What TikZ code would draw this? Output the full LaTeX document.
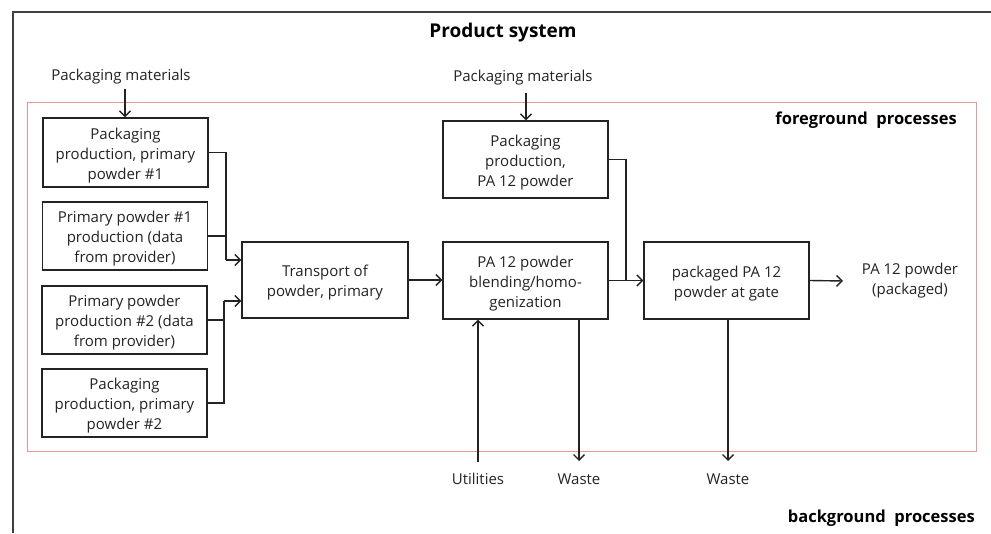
\documentclass[tikz,border=0pt]{standalone}
\usepackage{fontspec}
\setmainfont{Open Sans}
\usetikzlibrary{arrows.meta}
\definecolor{fgred}{RGB}{232,150,150}
\definecolor{ink}{RGB}{35,35,35}
\begin{document}
\begin{tikzpicture}[x=1pt,y=-1pt,
  txt/.style={font=\fontsize{15}{20}\selectfont, text=ink, align=center, inner sep=0pt, yshift=-2.5pt},
  box/.style={draw=ink, line width=1.1pt, minimum width=165pt, minimum height=69pt, inner sep=0pt},
  boxtxt/.style={txt, yshift=-0.5pt},
  ttl/.style={font=\fontsize{16.5}{18}\selectfont\bfseries, text=black, inner sep=0pt, yshift=-2pt},
  ln/.style={draw=ink, line width=1.4pt},
  arr/.style={ln, -{Straight Barb[length=5.5pt,width=11pt]}}]
\useasboundingbox (0,0) rectangle (991,534);
% frames
\draw[black!75, line width=1.2pt] (991,12) -- (13,12) -- (13,533);
\draw[fgred, line width=1pt] (27,103) rectangle (976,452);
% titles
\node[ttl, font=\fontsize{19}{22}\selectfont\bfseries] (title) at (503,31) {Product system};
\node[ttl, anchor=east] (fg) at (957,118) {foreground\ \ processes};
\node[ttl, anchor=east] (bg) at (975,516) {background\ \ processes};
% boxes
\node[box] (A) at (125.5,152.5) {};
\node[box, minimum height=68pt] (B) at (125,236) {};
\node[box, minimum height=68pt] (C) at (124.5,320) {};
\node[box, minimum height=68pt] (D) at (124.5,403) {};
\node[box, minimum width=166pt, minimum height=76pt] (T) at (325,280) {};
\node[box, minimum height=77pt] (Bl) at (525.5,280.5) {};
\node[box, minimum height=77pt] (P) at (525.5,159.5) {};
\node[box, minimum height=77pt] (G) at (726.5,280.5) {};
% box texts
\node[boxtxt] (At) at (A) {Packaging\\production, primary\\powder \#1};
\node[boxtxt] (Bt) at (B) {Primary powder \#1\\production (data\\from provider)};
\node[boxtxt] (Ct) at (C) {Primary powder\\production \#2 (data\\from provider)};
\node[boxtxt] (Dt) at (D) {Packaging\\production, primary\\powder \#2};
\node[boxtxt] (Tt) at (T) {Transport of\\powder, primary};
\node[boxtxt] (Blt) at (Bl) {PA 12 powder\\blending/homo-\\genization};
\node[boxtxt] (Pt) at (P) {Packaging\\production,\\PA 12 powder};
\node[boxtxt] (Gt) at (G) {packaged PA 12\\powder at gate};
% labels
\node[txt] (pm1) at (121,74) {Packaging materials};
\node[txt] (pm2) at (523,75) {Packaging materials};
\node[txt] (out) at (910,278) {PA 12 powder\\(packaged)};
\node[txt] (ut) at (478,476.5) {Utilities};
\node[txt] (ws1) at (579,476.5) {Waste};
\node[txt] (ws2) at (728,476.5) {Waste};
% coordinates
\coordinate (j1) at (226,260);
\coordinate (j2) at (224,301);
\coordinate (j3) at (626,281);
\coordinate (a1) at (125,89);
\coordinate (a2) at (526,93);
\coordinate (u0) at (478,462);
\coordinate (w1) at (579,461);
\coordinate (w2) at (728,461);
\coordinate (o1) at (843,281);
% connectors
\draw[arr] (a1) -- (a1 |- A.north);
\draw[arr] (a2) -- (a2 |- P.north);
\draw[ln] (A.east) -| (j1);
\draw[ln] (B.east) -| (j1);
\draw[arr] (j1) -- (j1 -| T.west);
\draw[ln] (D.east) -| (j2);
\draw[ln] (C.east) -| (j2);
\draw[arr] (j2) -- (j2 -| T.west);
\draw[arr] (T.east) -- (T.east -| Bl.west);
\draw[ln] (P.east) -| (j3);
\draw[arr] (Bl.east) -- (Bl.east -| G.west);
\draw[arr] (G.east) -- (o1);
\draw[arr] (u0) -- (u0 |- Bl.south);
\draw[arr] (w1 |- Bl.south) -- (w1);
\draw[arr] (w2 |- G.south) -- (w2);
\end{tikzpicture}
\end{document}
